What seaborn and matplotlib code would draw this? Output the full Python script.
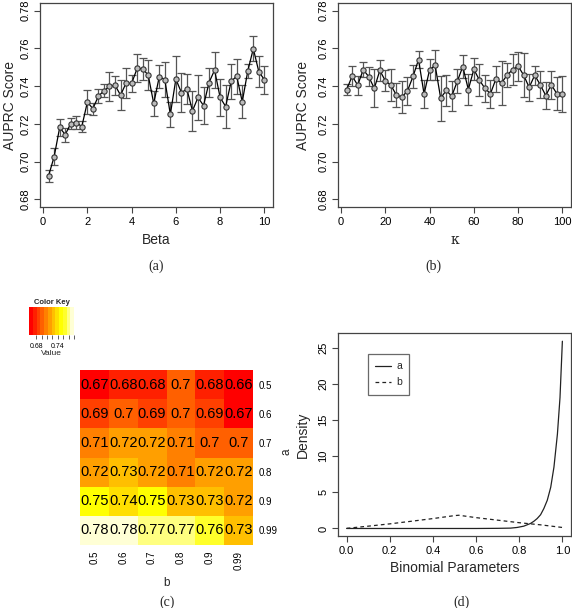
import numpy as np
import pandas as pd
import matplotlib
matplotlib.use("Agg")
import matplotlib.pyplot as plt
from matplotlib.colors import ListedColormap
import seaborn as sns

# ---------------- data ----------------
beta_x = [0.25, 0.5, 0.75, 1.0, 1.25, 1.5, 1.75, 2.0, 2.25, 2.5, 2.75, 3.0, 3.25, 3.5, 3.75, 4.0,
          4.25, 4.5, 4.75, 5.0, 5.25, 5.5, 5.75, 6.0, 6.25, 6.5, 6.75, 7.0, 7.25, 7.5, 7.75, 8.0,
          8.25, 8.5, 8.75, 9.0, 9.25, 9.5, 9.75, 10.0]
beta_mean = [0.6926, 0.7027, 0.7181, 0.7143, 0.7202, 0.7207, 0.7186, 0.7315, 0.7281, 0.7347,
             0.7375, 0.7398, 0.7405, 0.7352, 0.7416, 0.7414, 0.7494, 0.7492, 0.7458, 0.7308,
             0.7450, 0.7435, 0.7250, 0.7437, 0.7366, 0.7384, 0.7269, 0.7340, 0.7297, 0.7419,
             0.7485, 0.7340, 0.7292, 0.7425, 0.7453, 0.7317, 0.7480, 0.7598, 0.7476, 0.7434]
beta_err = [0.0031, 0.0045, 0.0045, 0.0037, 0.0030, 0.0035, 0.0030, 0.0064, 0.0032, 0.0038,
            0.0035, 0.0076, 0.0050, 0.0080, 0.0078, 0.0043, 0.0074, 0.0058, 0.0080, 0.0067,
            0.0060, 0.0093, 0.0065, 0.0120, 0.0104, 0.0080, 0.0107, 0.0118, 0.0097, 0.0076,
            0.0095, 0.0097, 0.0114, 0.0093, 0.0093, 0.0088, 0.0036, 0.0066, 0.0083, 0.0075]

kappa_x = [2.5, 5, 7.5, 10, 12.5, 15, 17.5, 20, 22.5, 25, 27.5, 30, 32.5, 35, 37.5, 40, 42.5, 45,
           47.5, 50, 52.5, 55, 57.5, 60, 62.5, 65, 67.5, 70, 72.5, 75, 77.5, 80, 82.5, 85, 87.5,
           90, 92.5, 95, 97.5, 100]
kappa_mean = [0.7381, 0.7453, 0.7405, 0.7487, 0.7450, 0.7388, 0.7483, 0.7428, 0.7405, 0.7352,
              0.7342, 0.7375, 0.7451, 0.7540, 0.7358, 0.7487, 0.7510, 0.7336, 0.7377, 0.7347,
              0.7425, 0.7503, 0.7382, 0.7489, 0.7432, 0.7388, 0.7360, 0.7439, 0.7416, 0.7458,
              0.7487, 0.7506, 0.7458, 0.7393, 0.7458, 0.7407, 0.7350, 0.7407, 0.7360, 0.7358]
kappa_err = [0.0030, 0.0051, 0.0050, 0.0039, 0.0049, 0.0100, 0.0054, 0.0055, 0.0084, 0.0065,
             0.0085, 0.0073, 0.0059, 0.0045, 0.0073, 0.0054, 0.0079, 0.0120, 0.0082, 0.0078,
             0.0064, 0.0062, 0.0084, 0.0058, 0.0083, 0.0071, 0.0074, 0.0069, 0.0117, 0.0062,
             0.0082, 0.0077, 0.0118, 0.0071, 0.0050, 0.0072, 0.0073, 0.0074, 0.0088, 0.0094]

heat_a = ["0.5", "0.6", "0.7", "0.8", "0.9", "0.99"]
heat_b = ["0.5", "0.6", "0.7", "0.8", "0.9", "0.99"]
heat_vals = [
    [0.67, 0.68, 0.68, 0.70, 0.68, 0.66],
    [0.69, 0.70, 0.69, 0.70, 0.69, 0.67],
    [0.71, 0.72, 0.72, 0.71, 0.70, 0.70],
    [0.72, 0.73, 0.72, 0.71, 0.72, 0.72],
    [0.75, 0.74, 0.75, 0.73, 0.73, 0.72],
    [0.78, 0.78, 0.77, 0.77, 0.76, 0.73],
]

dens_a_x = [0.0, 0.1, 0.2, 0.3, 0.4, 0.5, 0.6, 0.65, 0.7, 0.76, 0.79, 0.821, 0.852, 0.868,
            0.883, 0.899, 0.914, 0.930, 0.946, 0.961, 0.977, 0.989, 1.0]
dens_a_y = [0.0, 0.0, 0.0, 0.0, 0.0, 0.0, 0.0, 0.01, 0.02, 0.05, 0.14, 0.32, 0.69, 1.0,
            1.37, 1.9, 2.75, 3.9, 5.7, 8.5, 13.05, 18.1, 25.9]
dens_b_x = [0.0, 0.1, 0.2, 0.3, 0.4, 0.5, 0.52, 0.6, 0.7, 0.8, 0.9, 1.0]
dens_b_y = [0.02, 0.32, 0.64, 1.0, 1.37, 1.78, 1.83, 1.5, 1.15, 0.8, 0.5, 0.14]

# heat.colors(12) as in R
heat12 = ["#FF0000", "#FF2000", "#FF4000", "#FF6000", "#FF8000", "#FF9F00", "#FFBF00",
          "#FFDF00", "#FFFF00", "#FFFF2A", "#FFFF80", "#FFFFD5"]

# ---------------- style ----------------
sns.set_style("ticks")
plt.rcParams["font.family"] = ["Liberation Sans", "DejaVu Sans"]
plt.rcParams["axes.edgecolor"] = "#444444"
plt.rcParams["axes.linewidth"] = 0.9
plt.rcParams["xtick.color"] = "#444444"
plt.rcParams["ytick.color"] = "#444444"
plt.rcParams["xtick.labelcolor"] = "black"
plt.rcParams["ytick.labelcolor"] = "black"

W, H = 572, 608
fig = plt.figure(figsize=(W / 100, H / 100), dpi=100)


def px_axes(l, t, r, b):
    return fig.add_axes([l / W, 1 - b / H, (r - l) / W, (b - t) / H])


def r_style(ax, xlabel, ylabel, xlim, ylim, xticks, yticks, yfmt, ylab_x=-0.15):
    ax.set_xlim(*xlim)
    ax.set_ylim(*ylim)
    ax.set_xticks(xticks)
    ax.set_yticks(yticks)
    ax.set_yticklabels([yfmt.format(v) for v in yticks], rotation=90, va="center")
    ax.tick_params(axis="both", direction="out", length=4, width=0.8, labelsize=8, pad=3)
    for s in ax.spines.values():
        s.set_visible(True)
    ax.set_xlabel(xlabel, fontsize=10)
    ax.set_ylabel(ylabel, fontsize=10)
    ax.xaxis.set_label_coords(0.5, -0.16)
    ax.yaxis.set_label_coords(ylab_x, 0.5)
    ax.xaxis.label.set_va("center")
    ax.yaxis.label.set_va("center")


def line_err(ax, x, y, e):
    ax.errorbar(x, y, yerr=e, fmt="none", ecolor="#555555", elinewidth=0.9,
                capsize=3, capthick=0.9, zorder=2)
    sns.lineplot(x=x, y=y, ax=ax, color="black", linewidth=0.9, marker="o",
                 markersize=3.8, markerfacecolor="#bbbbbb", markeredgecolor="#333333",
                 markeredgewidth=0.8, zorder=3)


# (a)
ax_a = px_axes(40, 3, 273, 207)
line_err(ax_a, beta_x, beta_mean, beta_err)
r_style(ax_a, "Beta", "AUPRC Score", (-0.14, 10.39), (0.676, 0.784),
        [0, 2, 4, 6, 8, 10], [0.68, 0.70, 0.72, 0.74, 0.76, 0.78], "{:.2f}", ylab_x=-0.128)

# (b)
ax_b = px_axes(338, 3, 571, 207)
line_err(ax_b, kappa_x, kappa_mean, kappa_err)
r_style(ax_b, "κ", "AUPRC Score", (-1.4, 103.9), (0.676, 0.784),
        [0, 20, 40, 60, 80, 100], [0.68, 0.70, 0.72, 0.74, 0.76, 0.78], "{:.2f}")
ax_b.xaxis.label.set_family(["DejaVu Serif"])

# (c) heatmap
ax_c = px_axes(80, 370, 253, 545)
df = pd.DataFrame(heat_vals, index=heat_a, columns=heat_b)
cmap = ListedColormap(heat12)
sns.heatmap(df, ax=ax_c, cmap=cmap, vmin=0.66, vmax=0.785, annot=True, fmt="g",
            cbar=False, annot_kws={"color": "black", "fontsize": 10.5})
ax_c.yaxis.tick_right()
ax_c.set_yticklabels(heat_a, rotation=0, fontsize=7)
ax_c.set_xticklabels(heat_b, rotation=90, fontsize=7)
ax_c.tick_params(axis="both", length=0, pad=4)
ax_c.set_xlabel("b", fontsize=8.5)
ax_c.xaxis.set_label_coords(0.5, -0.18)
ax_c.set_ylabel("")
fig.text(286 / W, 1 - 452 / H, "a", rotation=90, ha="center", va="center", fontsize=8.5)

# color key
ax_k = px_axes(29, 307, 74, 335)
cb = fig.colorbar(ax_c.collections[0], cax=ax_k, orientation="horizontal")
cb.outline.set_visible(False)
ax_k.set_xticks([0.68, 0.74])
ax_k.set_xticklabels(["0.68", "0.74"], fontsize=5)
ax_k.set_xticks([0.695, 0.71, 0.725, 0.755, 0.77, 0.785], minor=True)
ax_k.tick_params(axis="x", which="both", length=3, width=0.6, pad=3, direction="out")
ax_k.set_title("Color Key", fontsize=5.5, fontweight="bold", pad=2)
ax_k.set_xlabel("Value", fontsize=6, labelpad=0)

# (d)
ax_d = px_axes(338, 333, 571, 536)
sns.lineplot(x=dens_a_x, y=dens_a_y, ax=ax_d, color="#222222", linewidth=0.9, label="a")
sns.lineplot(x=dens_b_x, y=dens_b_y, ax=ax_d, color="#222222", linewidth=0.9,
             linestyle=(0, (3, 2.5)), label="b")
r_style(ax_d, "Binomial Parameters", "Density", (-0.04, 1.04), (-1.04, 27.04),
        [0.0, 0.2, 0.4, 0.6, 0.8, 1.0], [0, 5, 10, 15, 20, 25], "{:d}")
ax_d.set_xticklabels(["0.0", "0.2", "0.4", "0.6", "0.8", "1.0"])
leg = ax_d.legend(loc="upper left", bbox_to_anchor=(0.129, 0.897), fontsize=7.5,
                  handlelength=1.5, frameon=True, fancybox=False, borderpad=0.7,
                  labelspacing=0.6, handletextpad=0.5, borderaxespad=0)
leg.get_frame().set_edgecolor("#444444")
leg.get_frame().set_linewidth(0.9)

# captions
serif = ["Liberation Serif", "DejaVu Serif"]
for (x, y, s) in [(156, 266, "(a)"), (433, 266, "(b)"), (167, 602, "(c)"), (462, 602, "(d)")]:
    fig.text(x / W, 1 - y / H, s, ha="center", va="center", fontsize=10, family=serif)

fig.savefig("out.png", dpi=100)
